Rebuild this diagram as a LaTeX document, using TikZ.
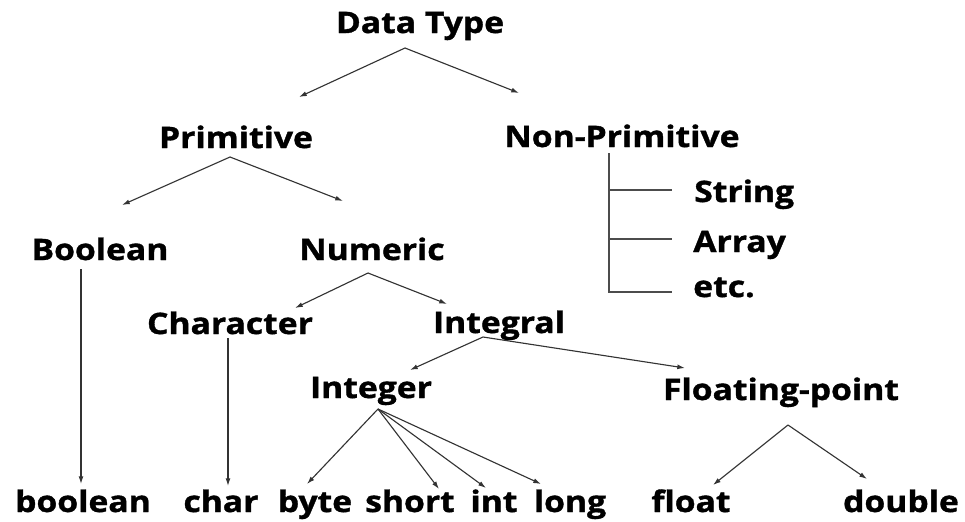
\documentclass[tikz,border=0pt]{standalone}
\usepackage{fontspec}
\setmainfont{Open Sans}[FakeStretch=1.14, BoldFeatures={FakeBold=1.2}]
\usepackage{tikz}
\usetikzlibrary{arrows.meta}
\tikzstyle{dtype} = [font=\fontsize{21}{24}\selectfont\bfseries, inner sep=0pt, anchor=base]
\tikzset{edgearrow/.style={draw=black!80, line width=0.8pt, -{Latex[length=5.5pt,width=3.5pt]}},
    branchline/.style={draw=black!70, line width=0.8pt}}

\begin{document}
\begin{tikzpicture}[x=0.025cm, y=-0.025cm]
    \useasboundingbox (0,0) rectangle (965,521);
    % Type names
    \node[dtype] (datatype) at (420,33) {Data Type};
    \node[dtype] (prim) at (236,148) {Primitive};
    \node[dtype] (nonprim) at (622,147) {Non-Primitive};
    \node[dtype] (bool) at (100,260) {Boolean};
    \node[dtype] (num) at (372,260) {Numeric};
    \node[dtype, anchor=base west] (str) at (694,202) {String};
    \node[dtype, anchor=base west] (arr) at (693,252) {Array};
    \node[dtype, anchor=base west] (etc) at (693,297) {etc.};
    \node[dtype] (chr) at (230,334) {Character};
    \node[dtype] (integral) at (499,333) {Integral};
    \node[dtype] (integer) at (371,398) {Integer};
    \node[dtype] (fp) at (781,400) {Floating-point};
    %
    \node[dtype] (kwboolean) at (83,512) {boolean};
    \node[dtype] (kwchar) at (221,512) {char};
    \node[dtype] (kwbyte) at (315,512) {byte};
    \node[dtype] (kwshort) at (410,512) {short};
    \node[dtype] (kwint) at (494,512) {int};
    \node[dtype] (kwlong) at (570,512) {long};
    \node[dtype] (kwfloat) at (691,512) {float};
    \node[dtype] (kwdouble) at (901,512) {double};
    % Start and end points of the connectors
    \coordinate (datatype-b) at (405,48);
    \coordinate (prim-t) at (299,97);
    \coordinate (nonprim-t) at (519,93);
    \coordinate (prim-b) at (230,157);
    \coordinate (bool-t) at (122,205);
    \coordinate (num-t) at (343,201);
    \coordinate (num-b) at (368,273);
    \coordinate (chr-t) at (295,308);
    \coordinate (integral-t) at (447,304);
    \coordinate (integral-b) at (483,337);
    \coordinate (integer-t) at (410,370);
    \coordinate (fp-t) at (685,368);
    \coordinate (integer-b) at (378,409);
    \coordinate (fp-b) at (788,425);
    \coordinate (bool-b) at (81,269);
    \coordinate (chr-b) at (228,338);
    \coordinate (kwboolean-t) at (81,484);
    \coordinate (kwchar-t) at (228,486);
    \coordinate (kwbyte-t) at (307,484);
    \coordinate (kwshort-t) at (439,489);
    \coordinate (kwint-t) at (486,488);
    \coordinate (kwlong-t) at (541,484);
    \coordinate (kwfloat-t) at (713,485);
    \coordinate (kwdouble-t) at (867,479);
    %
    \draw[edgearrow] (datatype-b) -- (prim-t);
    \draw[edgearrow] (datatype-b) -- (nonprim-t);
    \draw[edgearrow] (prim-b) -- (bool-t);
    \draw[edgearrow] (prim-b) -- (num-t);
    \draw[edgearrow] (num-b) -- (chr-t);
    \draw[edgearrow] (num-b) -- (integral-t);
    \draw[edgearrow] (integral-b) -- (integer-t);
    \draw[edgearrow] (integral-b) -- (fp-t);
    \draw[edgearrow] (bool-b) -- (kwboolean-t);
    \draw[edgearrow] (chr-b) -- (kwchar-t);
    \draw[edgearrow] (integer-b) -- (kwbyte-t);
    \draw[edgearrow] (integer-b) -- (kwshort-t);
    \draw[edgearrow] (integer-b) -- (kwint-t);
    \draw[edgearrow] (integer-b) -- (kwlong-t);
    \draw[edgearrow] (fp-b) -- (kwfloat-t);
    \draw[edgearrow] (fp-b) -- (kwdouble-t);
    % Non-primitive branches
    \coordinate (nonprim-b) at (609,153);
    \coordinate (str-l) at (672,190);
    \coordinate (arr-l) at (672,239);
    \coordinate (etc-l) at (672,292);
    \draw[branchline] (nonprim-b) |- (etc-l);
    \draw[branchline] (nonprim-b |- str-l) -- (str-l);
    \draw[branchline] (nonprim-b |- arr-l) -- (arr-l);
\end{tikzpicture}
\end{document}
